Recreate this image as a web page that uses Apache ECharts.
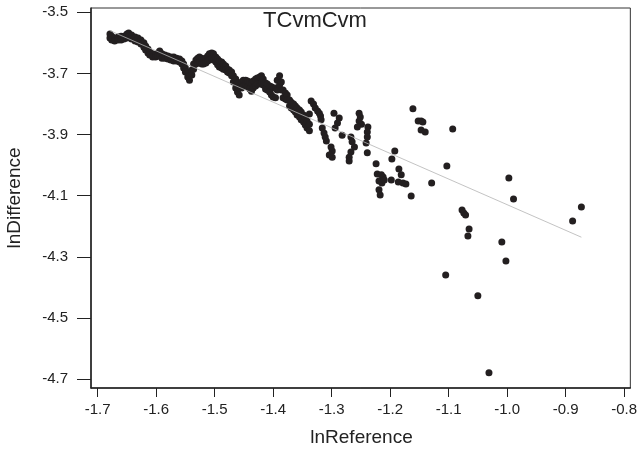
<!DOCTYPE html>
<html>
<head>
<meta charset="utf-8">
<script src="https://cdn.jsdelivr.net/npm/echarts@6/dist/echarts.min.js"></script>
<style>html,body{margin:0;padding:0;background:#fff}#c{width:640px;height:450px}</style>
</head>
<body>
<div id="c"></div>
<script>
// Dense run of overlapping points (two rows: upper and lower edge of the band)
const bandRef = [-1.679,-1.676,-1.671,-1.665,-1.660,-1.655,-1.650,-1.647,-1.642,-1.636,-1.631,-1.626,-1.621,-1.618,-1.614,-1.611,-1.606,-1.601,-1.597,-1.594,-1.590,-1.585,-1.580,-1.575,-1.570,-1.565,-1.560,-1.556,-1.553,-1.550,-1.546,-1.543,-1.539,-1.536,-1.532,-1.529,-1.526,-1.522,-1.519,-1.515,-1.512,-1.509,-1.505,-1.502,-1.498,-1.495,-1.492,-1.488,-1.485,-1.481,-1.478,-1.475,-1.471,-1.468,-1.464,-1.461,-1.458,-1.454,-1.451,-1.447,-1.444,-1.440,-1.437,-1.434,-1.430,-1.427,-1.423,-1.420,-1.417,-1.413,-1.410,-1.406,-1.403,-1.400,-1.396,-1.393,-1.389,-1.386,-1.383,-1.379,-1.376,-1.372,-1.369,-1.365,-1.362,-1.359,-1.355,-1.352,-1.348,-1.345,-1.342,-1.338];
const bandDiffA = [-3.571,-3.578,-3.584,-3.581,-3.578,-3.578,-3.571,-3.568,-3.574,-3.581,-3.584,-3.591,-3.600,-3.610,-3.620,-3.630,-3.636,-3.640,-3.633,-3.627,-3.636,-3.640,-3.643,-3.646,-3.646,-3.650,-3.653,-3.659,-3.669,-3.682,-3.695,-3.708,-3.689,-3.669,-3.656,-3.650,-3.646,-3.650,-3.656,-3.650,-3.643,-3.636,-3.633,-3.636,-3.646,-3.653,-3.659,-3.663,-3.669,-3.676,-3.686,-3.689,-3.695,-3.708,-3.718,-3.731,-3.748,-3.728,-3.722,-3.722,-3.725,-3.728,-3.731,-3.725,-3.718,-3.715,-3.712,-3.708,-3.718,-3.731,-3.735,-3.741,-3.744,-3.748,-3.748,-3.722,-3.708,-3.728,-3.754,-3.764,-3.771,-3.787,-3.794,-3.800,-3.807,-3.813,-3.820,-3.826,-3.836,-3.846,-3.856,-3.866];
const bandDiffB = [-3.584,-3.591,-3.594,-3.591,-3.591,-3.587,-3.584,-3.581,-3.587,-3.594,-3.597,-3.604,-3.614,-3.623,-3.633,-3.640,-3.646,-3.646,-3.643,-3.643,-3.650,-3.650,-3.653,-3.656,-3.659,-3.659,-3.663,-3.669,-3.682,-3.695,-3.712,-3.722,-3.705,-3.686,-3.669,-3.666,-3.663,-3.669,-3.669,-3.666,-3.659,-3.656,-3.650,-3.656,-3.663,-3.672,-3.679,-3.682,-3.686,-3.689,-3.695,-3.699,-3.708,-3.728,-3.748,-3.761,-3.771,-3.748,-3.741,-3.741,-3.744,-3.751,-3.758,-3.748,-3.741,-3.735,-3.735,-3.731,-3.738,-3.751,-3.754,-3.761,-3.771,-3.777,-3.780,-3.754,-3.738,-3.754,-3.780,-3.784,-3.787,-3.807,-3.813,-3.820,-3.826,-3.836,-3.843,-3.852,-3.859,-3.869,-3.879,-3.888];
// Scattered points
const tailRef = [-1.335,-1.331,-1.328,-1.324,-1.321,-1.319,-1.318,-1.338,-1.316,-1.313,-1.311,-1.309,-1.301,-1.299,-1.304,-1.299,-1.296,-1.287,-1.290,-1.294,-1.282,-1.267,-1.265,-1.261,-1.267,-1.270,-1.270,-1.253,-1.251,-1.253,-1.249,-1.256,-1.238,-1.239,-1.239,-1.241,-1.239,-1.224,-1.222,-1.215,-1.212,-1.219,-1.214,-1.210,-1.219,-1.217,-1.198,-1.192,-1.197,-1.185,-1.181,-1.186,-1.178,-1.173,-1.164,-1.161,-1.152,-1.147,-1.144,-1.147,-1.140,-1.129,-1.103,-1.093,-1.077,-1.074,-1.071,-1.065,-1.067,-1.009,-1.002,-1.105,-1.050,-1.031,-0.997,-0.989,-0.873,-0.888];
const tailDiff = [-3.790,-3.800,-3.813,-3.823,-3.830,-3.839,-3.852,-3.833,-3.879,-3.895,-3.908,-3.921,-3.941,-3.954,-3.967,-3.974,-3.830,-3.846,-3.862,-3.879,-3.902,-3.908,-3.924,-3.941,-3.957,-3.974,-3.987,-3.830,-3.843,-3.856,-3.866,-3.875,-3.875,-3.892,-3.908,-3.928,-3.960,-3.996,-4.029,-4.032,-4.039,-4.052,-4.059,-4.049,-4.081,-4.098,-4.049,-3.954,-3.980,-4.013,-4.032,-4.055,-4.059,-4.062,-4.101,-3.816,-3.856,-3.856,-3.859,-3.885,-3.892,-4.059,-4.003,-3.882,-4.147,-4.157,-4.163,-4.209,-4.232,-4.252,-4.314,-4.360,-4.428,-4.680,-4.042,-4.111,-4.137,-4.183];
// Fitted line end points
const fitRef = [-1.679, -0.873];
const fitDiff = [-3.560, -4.236];
// Tick labels
const xTicks = [-1.7,-1.6,-1.5,-1.4,-1.3,-1.2,-1.1,-1.0,-0.9,-0.8];
const yTicks = [-3.5,-3.7,-3.9,-4.1,-4.3,-4.5,-4.7];

const pts = [];
bandRef.forEach((x,i)=>{pts.push([x,bandDiffA[i]]);pts.push([x,bandDiffB[i]]);});
tailRef.forEach((x,i)=>pts.push([x,tailDiff[i]]));
const fit = fitRef.map((x,i)=>[x,fitDiff[i]]);

const FONT = "'Liberation Sans', Arial, sans-serif";
const chart = echarts.init(document.getElementById('c'), null, {renderer:'canvas'});
chart.setOption({
  animation:false,
  backgroundColor:'#fff',
  grid:{left:91,right:8,top:8,bottom:62,show:true,borderColor:'#333',borderWidth:1,backgroundColor:'transparent'},
  xAxis:{type:'value',min:-1.7114,max:-0.7893,position:'bottom',
    axisLine:{onZero:false,lineStyle:{color:'#222',width:1.5}},
    axisTick:{show:true,inside:false,length:9,customValues:xTicks,lineStyle:{color:'#222',width:1}},
    axisLabel:{customValues:xTicks,margin:14,color:'#222',fontSize:15,fontFamily:FONT,formatter:v=>v.toFixed(1)},
    splitLine:{show:false}},
  yAxis:{type:'value',min:-4.7295,max:-3.4859,
    axisLine:{show:true,onZero:false,lineStyle:{color:'#222',width:1.5}},
    axisTick:{show:true,inside:false,length:14,customValues:yTicks,lineStyle:{color:'#222',width:1}},
    axisLabel:{customValues:yTicks,margin:23,color:'#222',fontSize:15,fontFamily:FONT,formatter:v=>v.toFixed(1)},
    splitLine:{show:false}},
  graphic:[
    {type:'text',x:315,y:20.5,style:{text:'TCvmCvm',font:"22px "+FONT,fill:'#222',textAlign:'center',textVerticalAlign:'middle'}},
    {type:'text',x:361.5,y:438,style:{text:'lnReference',font:"19px "+FONT,fill:'#222',textAlign:'center',textVerticalAlign:'middle'}},
    {type:'text',x:15,y:198,rotation:Math.PI/2,style:{text:'lnDifference',font:"19px "+FONT,fill:'#222',textAlign:'center',textVerticalAlign:'middle'}}
  ],
  series:[
    {type:'scatter',data:pts,symbol:'circle',symbolSize:7,itemStyle:{color:'#231f20',opacity:1},silent:true,z:2},
    {type:'line',data:fit,symbol:'none',lineStyle:{color:'#b4b4b4',width:0.8},silent:true,z:3}
  ]
});
</script>
</body>
</html>
